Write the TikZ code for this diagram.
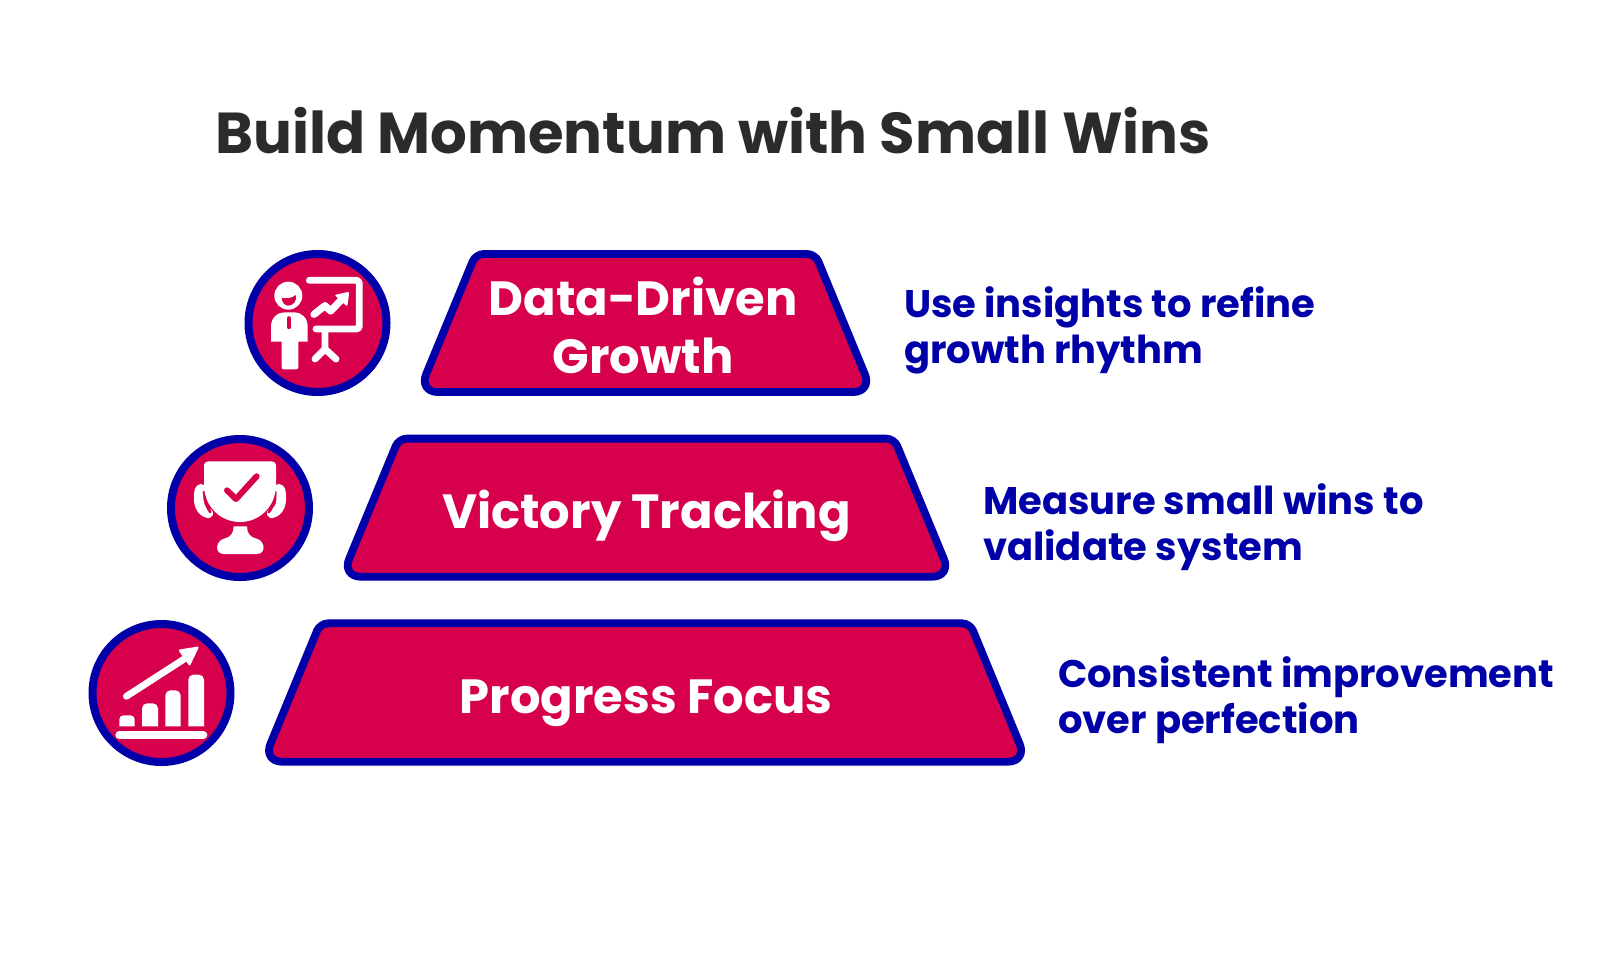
\documentclass[tikz,border=0pt]{standalone}
\usepackage{fontspec}
\setmainfont{Poppins}
\definecolor{crimson}{HTML}{D6004C}
\definecolor{royal}{HTML}{0000A8}
\definecolor{heading}{HTML}{2B2B2B}
\tikzset{
	tier/.style={draw=royal, fill=crimson, line width=3.9pt},
	topround/.style={rounded corners=4pt},
	bottomround/.style={rounded corners=9.5pt},
	badge/.style={circle, draw=royal, fill=crimson, line width=4pt, minimum size=69pt, inner sep=0pt},
	tiertext/.style={text=white, font=\fontsize{24}{29}\selectfont\bfseries, align=center},
	sidetext/.style={text=royal, font=\fontsize{19.24}{23}\selectfont\bfseries, align=left, anchor=west},
	iconline/.style={draw=white, line cap=round, line join=round},
	iconfill/.style={fill=white, draw=none},
	zoomed/.style={x=0.16667pt, y=-0.16667pt}
}
\begin{document}
\begin{tikzpicture}[x=0.5pt, y=-0.5pt]
	\useasboundingbox (0, 0) rectangle (1600, 970);

	\node[text=heading, font=\fontsize{28.85}{34}\selectfont\bfseries] (title) at (713, 131) {Build Momentum with Small Wins};

	% tiers
	\draw[tier] (645, 254) [topround] -- (815.3, 254) [bottomround] -- (872.2, 392) -- (418.8, 392) [topround] -- (475.7, 254) -- cycle;
	\draw[tier] (645, 438.6) [topround] -- (894.2, 438.6) [bottomround] -- (951.2, 576.7) -- (341.8, 576.7) [topround] -- (398.8, 438.6) -- cycle;
	\draw[tier] (645, 623.3) [topround] -- (970, 623.3) [bottomround] -- (1027, 761.7) -- (263.1, 761.7) [topround] -- (320.1, 623.3) -- cycle;

	\node[tiertext] (growth) at (643, 325) {Data-Driven\\Growth};
	\node[tiertext] (victory) at (646.5, 516) {Victory Tracking};
	\node[tiertext] (progress) at (646, 703) {Progress Focus};

	\node[sidetext] (growthnote) at (897, 330.5) {Use insights to refine\\growth rhythm};
	\node[sidetext] (victorynote) at (976, 527) {Measure small wins to\\validate system};
	\node[sidetext] (progressnote) at (1051, 700) {Consistent improvement\\over perfection};

	\node[badge] (growthbadge) at (317.5, 323) {};
	\node[badge] (victorybadge) at (240, 508) {};
	\node[badge] (progressbadge) at (161.5, 693) {};

	% presenter icon
	\begin{scope}[shift={(230, 235)}, zoomed]
		\fill[iconfill] (175, 182) circle (42);
		\fill[crimson] (155, 188) .. controls (170, 192) and (185, 190) .. (197, 180) .. controls (203, 195) and (190, 212) .. (175, 212) .. controls (163, 212) and (155, 200) .. (155, 188);
		\fill[iconfill] (123, 320) -- (123, 275) .. controls (123, 250) and (140, 232) .. (165, 232) -- (192, 232) .. controls (217, 232) and (233, 250) .. (233, 275) -- (233, 320) -- (205, 320) -- (205, 396) .. controls (205, 401) and (202, 403) .. (198, 403) -- (162, 403) .. controls (158, 403) and (155, 401) .. (155, 396) -- (155, 320) -- cycle;
		\draw[crimson, line width=2.2pt, line cap=round] (177, 250) -- (177, 276);
		\draw[iconline, line width=3.4pt, rounded corners=1.5pt] (238, 136) -- (388, 136) -- (388, 282) -- (258, 282);
		\draw[iconline, line width=3.4pt] (285, 285) -- (285, 342) -- (255, 372);
		\draw[iconline, line width=3.4pt] (285, 342) -- (318, 372);
		\draw[iconline, line width=3.6pt] (252, 238) -- (285, 212) -- (302, 228) -- (340, 188);
		\fill[iconfill, rounded corners=1pt] (313, 180) -- (358, 170) -- (352, 215) -- cycle;
	\end{scope}

	% trophy icon
	\begin{scope}[shift={(155, 418)}, zoomed]
		\draw[iconline, line width=4.8pt] (138, 212) .. controls (130, 212) and (131, 240) .. (132, 252) .. controls (134, 270) and (145, 283) .. (160, 286);
		\draw[iconline, line width=4.8pt] (372, 212) .. controls (380, 212) and (379, 240) .. (378, 252) .. controls (376, 270) and (365, 283) .. (350, 286);
		\draw[crimson, line width=1.3pt, line cap=round] (147, 222) .. controls (150, 250) and (155, 268) .. (166, 282);
		\draw[crimson, line width=1.3pt, line cap=round] (361, 222) .. controls (358, 250) and (353, 268) .. (342, 282);
		\fill[iconfill] (147, 145) .. controls (147, 135) and (152, 130) .. (160, 130) -- (350, 130) .. controls (358, 130) and (363, 135) .. (363, 145) -- (363, 205) .. controls (360, 270) and (310, 312) .. (255, 312) .. controls (200, 312) and (150, 270) .. (147, 205) -- cycle;
		\fill[iconfill] (236, 325) -- (276, 325) .. controls (276, 345) and (285, 358) .. (305, 362) .. controls (330, 368) and (335, 408) .. (305, 408) -- (207, 408) .. controls (177, 408) and (182, 368) .. (207, 362) .. controls (227, 358) and (236, 345) .. (236, 325) -- cycle;
		\draw[crimson, line width=3pt, line cap=round, line join=round] (216, 217) -- (243, 243) -- (305, 175);
	\end{scope}

	% chart icon
	\begin{scope}[shift={(78, 598)}, zoomed]
		\fill[iconfill] (124, 385) {[rounded corners=2pt] -- (124, 352) -- (170, 352)} -- (170, 385) -- cycle;
		\fill[iconfill] (192, 385) {[rounded corners=2.5pt] -- (192, 316) -- (240, 316)} -- (240, 385) -- cycle;
		\fill[iconfill] (262, 385) {[rounded corners=2.5pt] -- (262, 277) -- (308, 277)} -- (308, 385) -- cycle;
		\fill[iconfill] (331, 385) {[rounded corners=2.5pt] -- (331, 230) -- (378, 230)} -- (378, 385) -- cycle;
		\draw[iconline, line width=4pt] (124, 411) -- (376, 411);
		\draw[iconline, line width=3.4pt] (145, 295) -- (320, 182);
		\fill[iconfill, rounded corners=1pt] (300, 155) -- (364, 145) -- (335, 205) -- cycle;
	\end{scope}
\end{tikzpicture}
\end{document}
